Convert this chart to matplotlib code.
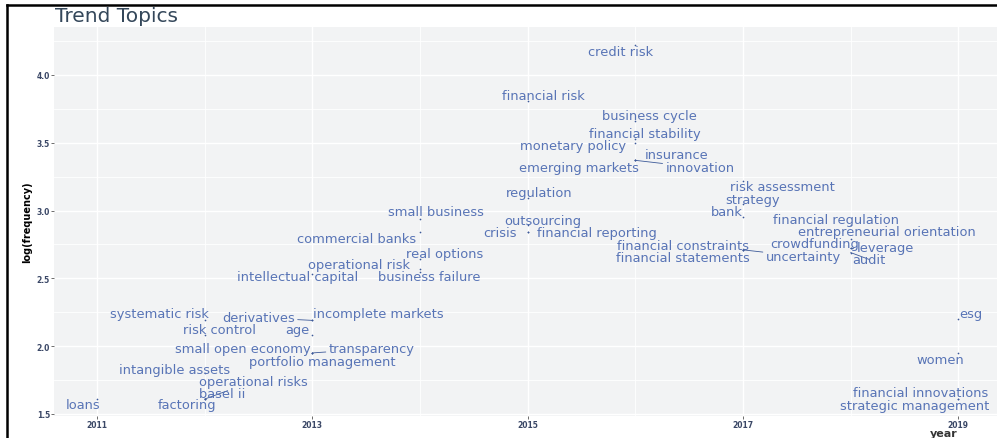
import numpy as np
import matplotlib.pyplot as plt
from matplotlib.lines import Line2D

plt.rcParams['font.family'] = ['DejaVu Sans']

# 数据: 词条, 年份(中位), log(frequency)
terms = ["credit risk", "financial risk", "business cycle", "financial stability",
         "monetary policy", "insurance", "emerging markets", "innovation",
         "regulation", "risk assessment", "strategy", "bank",
         "financial regulation", "entrepreneurial orientation", "crowdfunding",
         "leverage", "audit", "financial constraints", "financial statements",
         "uncertainty", "small business", "commercial banks", "real options",
         "operational risk", "intellectual capital", "business failure",
         "outsourcing", "crisis", "financial reporting", "systematic risk",
         "derivatives", "incomplete markets", "risk control", "age",
         "small open economy", "transparency", "portfolio management",
         "intangible assets", "operational risks", "basel ii", "factoring",
         "loans", "esg", "women", "financial innovations", "strategic management"]
years = [2016, 2015, 2016, 2016,
         2016, 2016, 2016, 2016,
         2015, 2017, 2017, 2017,
         2018, 2018, 2018,
         2018, 2018, 2017, 2017,
         2017, 2014, 2014, 2014,
         2014, 2013, 2014,
         2015, 2015, 2015, 2012,
         2013, 2013, 2012, 2013,
         2013, 2013, 2013,
         2012, 2012, 2012, 2012,
         2011, 2019, 2019, 2019, 2019]
log_freq = [4.22, 3.81, 3.66, 3.53,
            3.50, 3.37, 3.37, 3.37,
            3.09, 3.22, 3.05, 2.95,
            2.89, 2.79, 2.72,
            2.72, 2.69, 2.71, 2.71,
            2.71, 2.94, 2.84, 2.64,
            2.57, 2.53, 2.55,
            2.89, 2.84, 2.84, 2.19,
            2.19, 2.19, 2.08, 2.08,
            1.95, 1.95, 1.95,
            1.80, 1.61, 1.61, 1.61,
            1.61, 2.20, 1.95, 1.61, 1.61]

# 标签位置 (数据坐标, 手工避让)
label_x = [2015.86, 2015.15, 2016.13, 2016.09,
           2015.42, 2016.38, 2015.48, 2016.60,
           2015.11, 2017.37, 2017.09, 2016.85,
           2017.86, 2018.34, 2017.67,
           2018.32, 2018.17, 2016.44, 2016.44,
           2017.56, 2014.15, 2013.41, 2014.23,
           2013.43, 2012.86, 2014.09,
           2015.14, 2014.74, 2015.64, 2011.58,
           2012.50, 2013.61, 2012.14, 2012.86,
           2012.35, 2013.55, 2013.09,
           2011.72, 2012.45, 2012.16, 2011.84,
           2010.87, 2019.12, 2018.83, 2018.65, 2018.60]
label_y = [4.17, 3.85, 3.70, 3.57,
           3.48, 3.41, 3.32, 3.315,
           3.13, 3.18, 3.08, 2.99,
           2.935, 2.845, 2.76,
           2.73, 2.64, 2.74, 2.65,
           2.66, 2.99, 2.79, 2.68,
           2.60, 2.51, 2.51,
           2.93, 2.84, 2.84, 2.24,
           2.21, 2.24, 2.125, 2.12,
           1.98, 1.98, 1.89,
           1.83, 1.74, 1.65, 1.57,
           1.57, 2.24, 1.90, 1.66, 1.565]

# 有连线的标签
connected = ["innovation", "derivatives", "transparency", "operational risks",
             "uncertainty", "leverage", "audit"]

label_color = "#5874b6"
dot_color = "#3d5a99"

fig = plt.figure(figsize=(9.97, 4.39), dpi=100)
ax = fig.add_axes([54 / 997, 22 / 439, 1 - 54 / 997, 1 - 50 / 439])
ax.set_facecolor("#f2f3f4")

ax.set_xlim(2010.60, 2019.36)
ax.set_ylim(1.485, 4.353)

ax.set_xticks([2011, 2013, 2015, 2017, 2019])
ax.set_xticks([2012, 2014, 2016, 2018], minor=True)
ax.set_yticks(np.arange(1.5, 4.01, 0.5))
ax.set_yticks(np.arange(1.75, 4.3, 0.5), minor=True)
ax.set_yticklabels([f"{v:.1f}" for v in np.arange(1.5, 4.01, 0.5)])
ax.grid(which="major", color="white", lw=1.0)
ax.grid(which="minor", color="white", lw=0.6)
ax.set_axisbelow(True)
for s in ax.spines.values():
    s.set_visible(False)
ax.tick_params(which="major", length=2, width=0.6, color="#555555",
               labelsize=5.5, labelcolor="#3a4766", pad=0.8)
ax.tick_params(which="minor", length=0)
for lab in ax.get_xticklabels() + ax.get_yticklabels():
    lab.set_fontweight("bold")

ax.scatter(years, log_freq, s=1.5, color=dot_color, zorder=3, linewidths=0)

for t, x, y, lx, ly in zip(terms, years, log_freq, label_x, label_y):
    if t in connected:
        ax.annotate(t, xy=(x, y), xytext=(lx, ly), ha="center", va="center",
                    fontsize=9.4, color=label_color, zorder=4,
                    arrowprops=dict(arrowstyle="-", color=dot_color, lw=0.6,
                                    shrinkA=0, shrinkB=0))
    else:
        ax.text(lx, ly, t, ha="center", va="center", fontsize=9.4,
                color=label_color, zorder=4)

ax.set_ylabel("log(frequency)", fontsize=7, fontweight="bold")
ax.yaxis.set_label_coords(-22 / 943, 0.5)
fig.text(958 / 997, 0, "year", ha="right", va="bottom",
         fontsize=8, fontweight="bold", color="#333333")
fig.text(55 / 997, 1 - 17 / 439, "Trend Topics", ha="left", va="center",
         fontsize=14.5, color="#34475a")

# 截图黑框
fig.add_artist(Line2D([7 / 997, 1], [1 - 6 / 439, 1 - 6 / 439],
                      transform=fig.transFigure, color="black", lw=1.8))
fig.add_artist(Line2D([7 / 997, 7 / 997], [0, 1 - 6 / 439],
                      transform=fig.transFigure, color="black", lw=1.8))

fig.savefig("out.png", dpi=100)
